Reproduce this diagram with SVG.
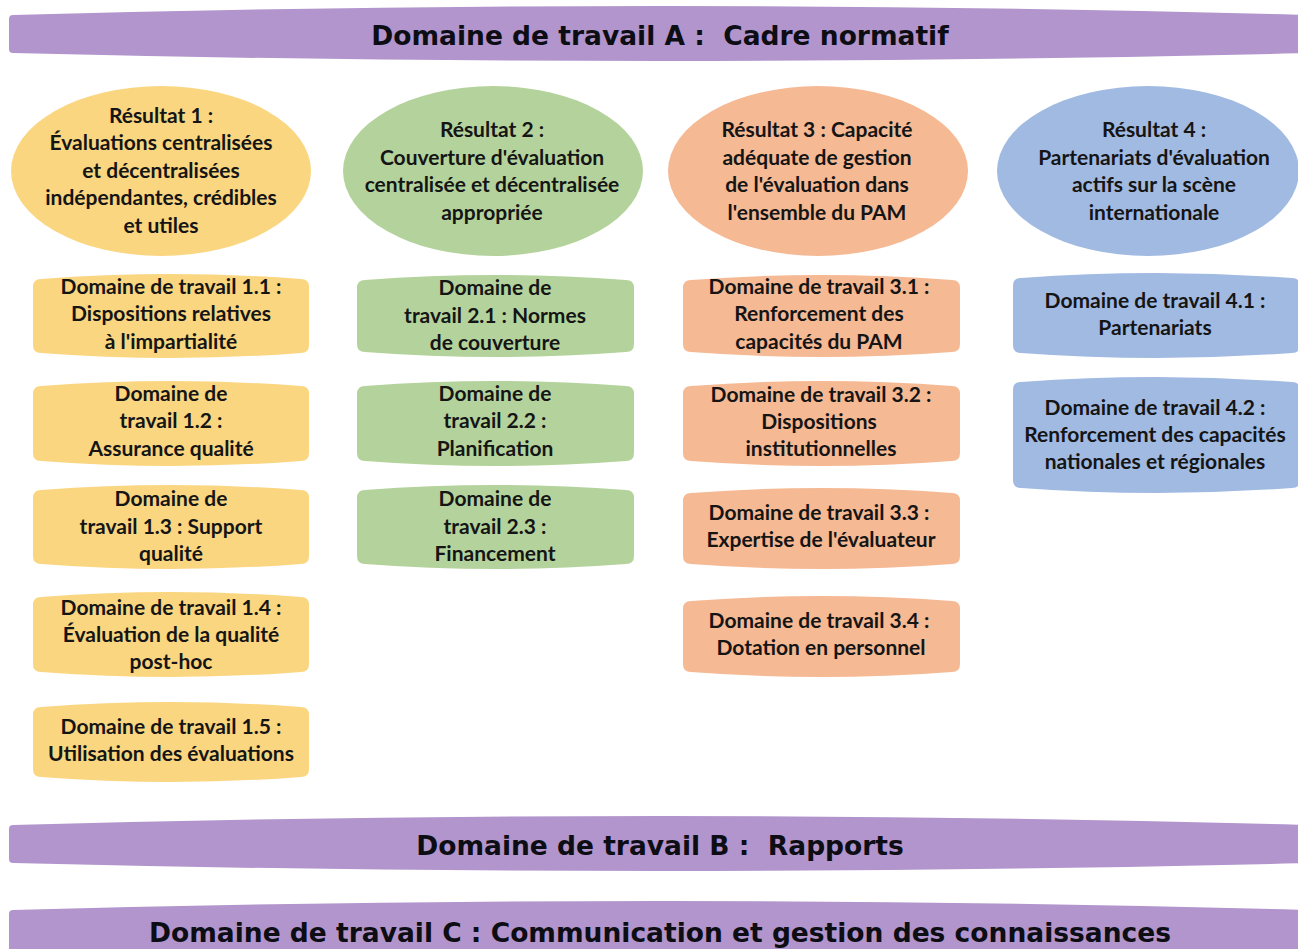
<svg xmlns="http://www.w3.org/2000/svg" width="1298" height="949" viewBox="0 0 1298 949">
<style>
.ban{fill:#B195CC}
.y{fill:#FAD680}
.g{fill:#B4D39C}
.o{fill:#F5B994}
.b{fill:#A1BAE2}
.bt{font-family:"DejaVu Sans",Verdana,sans-serif;font-weight:bold;font-size:26.5px;fill:#0d0d14;text-anchor:middle;white-space:pre}
.t{font-family:Lato,"Liberation Sans",sans-serif;font-weight:bold;font-size:21px;fill:#151515;text-anchor:middle}
</style>
<rect width="1298" height="949" fill="#fff"/>
<g id="bannerA">
<path class="ban" d="M9,19 Q9,15 13,15 Q660,-3 1311,15 L1311,53 Q660,69 13,53 Q9,53 9,49 Z"/>
<text class="bt" x="660" y="45" xml:space="preserve">Domaine de travail A :  Cadre normatif</text>
</g>
<g id="bannerB">
<path class="ban" d="M9,829 Q9,825 13,825 Q660,807 1311,825 L1311,863 Q660,879 13,863 Q9,863 9,859 Z"/>
<text class="bt" x="660" y="855" xml:space="preserve">Domaine de travail B :  Rapports</text>
</g>
<g id="bannerC">
<path class="ban" d="M9,914 Q9,910 13,910 Q660,892 1311,910 L1311,960 L9,960 Z"/>
<text class="bt" x="660" y="942">Domaine de travail C : Communication et gestion des connaissances</text>
</g>
<g id="res1">
<ellipse class="y" cx="161" cy="171" rx="150" ry="85"/>
<text class="t" x="161" y="123">Résultat 1 :</text>
<text class="t" x="161" y="150">Évaluations centralisées</text>
<text class="t" x="161" y="178">et décentralisées</text>
<text class="t" x="161" y="205">indépendantes, crédibles</text>
<text class="t" x="161" y="233">et utiles</text>
</g>
<g id="res2">
<ellipse class="g" cx="493" cy="171" rx="150" ry="85"/>
<text class="t" x="492" y="137">Résultat 2 :</text>
<text class="t" x="492" y="165">Couverture d'évaluation</text>
<text class="t" x="492" y="192">centralisée et décentralisée</text>
<text class="t" x="492" y="220">appropriée</text>
</g>
<g id="res3">
<ellipse class="o" cx="818" cy="171" rx="150" ry="85"/>
<text class="t" x="817" y="137">Résultat 3 : Capacité</text>
<text class="t" x="817" y="165">adéquate de gestion</text>
<text class="t" x="817" y="192">de l'évaluation dans</text>
<text class="t" x="817" y="220">l'ensemble du PAM</text>
</g>
<g id="res4">
<ellipse class="b" cx="1148" cy="171" rx="151" ry="85"/>
<text class="t" x="1154" y="137">Résultat 4 :</text>
<text class="t" x="1154" y="165">Partenariats d'évaluation</text>
<text class="t" x="1154" y="192">actifs sur la scène</text>
<text class="t" x="1154" y="220">internationale</text>
</g>
<g id="d11">
<path class="y" d="M33,287 Q33,279 41,279 Q171,269 301,279 Q309,279 309,287 L309,345 Q309,353 301,353 Q171,363 41,353 Q33,353 33,345 Z"/>
<text class="t" x="171" y="294">Domaine de travail 1.1 :</text>
<text class="t" x="171" y="321">Dispositions relatives</text>
<text class="t" x="171" y="349">à l'impartialité</text>
</g>
<g id="d12">
<path class="y" d="M33,394 Q33,386 41,386 Q171,376 301,386 Q309,386 309,394 L309,453 Q309,461 301,461 Q171,471 41,461 Q33,461 33,453 Z"/>
<text class="t" x="171" y="401">Domaine de</text>
<text class="t" x="171" y="428">travail 1.2 :</text>
<text class="t" x="171" y="456">Assurance qualité</text>
</g>
<g id="d13">
<path class="y" d="M33,498 Q33,490 41,490 Q171,480 301,490 Q309,490 309,498 L309,556 Q309,564 301,564 Q171,574 41,564 Q33,564 33,556 Z"/>
<text class="t" x="171" y="506">Domaine de</text>
<text class="t" x="171" y="534">travail 1.3 : Support</text>
<text class="t" x="171" y="561">qualité</text>
</g>
<g id="d14">
<path class="y" d="M33,605 Q33,597 41,597 Q171,587 301,597 Q309,597 309,605 L309,664 Q309,672 301,672 Q171,682 41,672 Q33,672 33,664 Z"/>
<text class="t" x="171" y="615">Domaine de travail 1.4 :</text>
<text class="t" x="171" y="642">Évaluation de la qualité</text>
<text class="t" x="171" y="669">post-hoc</text>
</g>
<g id="d15">
<path class="y" d="M33,715 Q33,707 41,707 Q171,697 301,707 Q309,707 309,715 L309,769 Q309,777 301,777 Q171,787 41,777 Q33,777 33,769 Z"/>
<text class="t" x="171" y="734">Domaine de travail 1.5 :</text>
<text class="t" x="171" y="761">Utilisation des évaluations</text>
</g>
<g id="d21">
<path class="g" d="M357,288 Q357,280 365,280 Q495,270 626,280 Q634,280 634,288 L634,344 Q634,352 626,352 Q495,362 365,352 Q357,352 357,344 Z"/>
<text class="t" x="495" y="295">Domaine de</text>
<text class="t" x="495" y="323">travail 2.1 : Normes</text>
<text class="t" x="495" y="350">de couverture</text>
</g>
<g id="d22">
<path class="g" d="M357,394 Q357,386 365,386 Q495,376 626,386 Q634,386 634,394 L634,453 Q634,461 626,461 Q495,471 365,461 Q357,461 357,453 Z"/>
<text class="t" x="495" y="401">Domaine de</text>
<text class="t" x="495" y="428">travail 2.2 :</text>
<text class="t" x="495" y="456">Planification</text>
</g>
<g id="d23">
<path class="g" d="M357,498 Q357,490 365,490 Q495,480 626,490 Q634,490 634,498 L634,556 Q634,564 626,564 Q495,574 365,564 Q357,564 357,556 Z"/>
<text class="t" x="495" y="506">Domaine de</text>
<text class="t" x="495" y="534">travail 2.3 :</text>
<text class="t" x="495" y="561">Financement</text>
</g>
<g id="d31">
<path class="o" d="M683,288 Q683,280 691,280 Q821,270 952,280 Q960,280 960,288 L960,344 Q960,352 952,352 Q821,362 691,352 Q683,352 683,344 Z"/>
<text class="t" x="819" y="294">Domaine de travail 3.1 :</text>
<text class="t" x="819" y="321">Renforcement des</text>
<text class="t" x="819" y="349">capacités du PAM</text>
</g>
<g id="d32">
<path class="o" d="M683,394 Q683,386 691,386 Q821,376 952,386 Q960,386 960,394 L960,453 Q960,461 952,461 Q821,471 691,461 Q683,461 683,453 Z"/>
<text class="t" x="821" y="402">Domaine de travail 3.2 :</text>
<text class="t" x="819" y="429">Dispositions</text>
<text class="t" x="821" y="456">institutionnelles</text>
</g>
<g id="d33">
<path class="o" d="M683,501 Q683,493 691,493 Q821,483 952,493 Q960,493 960,501 L960,556 Q960,564 952,564 Q821,574 691,564 Q683,564 683,556 Z"/>
<text class="t" x="819" y="520">Domaine de travail 3.3 :</text>
<text class="t" x="821" y="547">Expertise de l'évaluateur</text>
</g>
<g id="d34">
<path class="o" d="M683,609 Q683,601 691,601 Q821,591 952,601 Q960,601 960,609 L960,664 Q960,672 952,672 Q821,682 691,672 Q683,672 683,664 Z"/>
<text class="t" x="819" y="628">Domaine de travail 3.4 :</text>
<text class="t" x="821" y="655">Dotation en personnel</text>
</g>
<g id="d41">
<path class="b" d="M1013,286 Q1013,278 1021,278 Q1156,268 1292,278 Q1300,278 1300,286 L1300,345 Q1300,353 1292,353 Q1156,363 1021,353 Q1013,353 1013,345 Z"/>
<text class="t" x="1155" y="308">Domaine de travail 4.1 :</text>
<text class="t" x="1155" y="335">Partenariats</text>
</g>
<g id="d42">
<path class="b" d="M1013,390 Q1013,382 1021,382 Q1156,372 1292,382 Q1300,382 1300,390 L1300,480 Q1300,488 1292,488 Q1156,498 1021,488 Q1013,488 1013,480 Z"/>
<text class="t" x="1155" y="415">Domaine de travail 4.2 :</text>
<text class="t" x="1155" y="442">Renforcement des capacités</text>
<text class="t" x="1155" y="469">nationales et régionales</text>
</g>
<g id="connectors"></g>
</svg>
